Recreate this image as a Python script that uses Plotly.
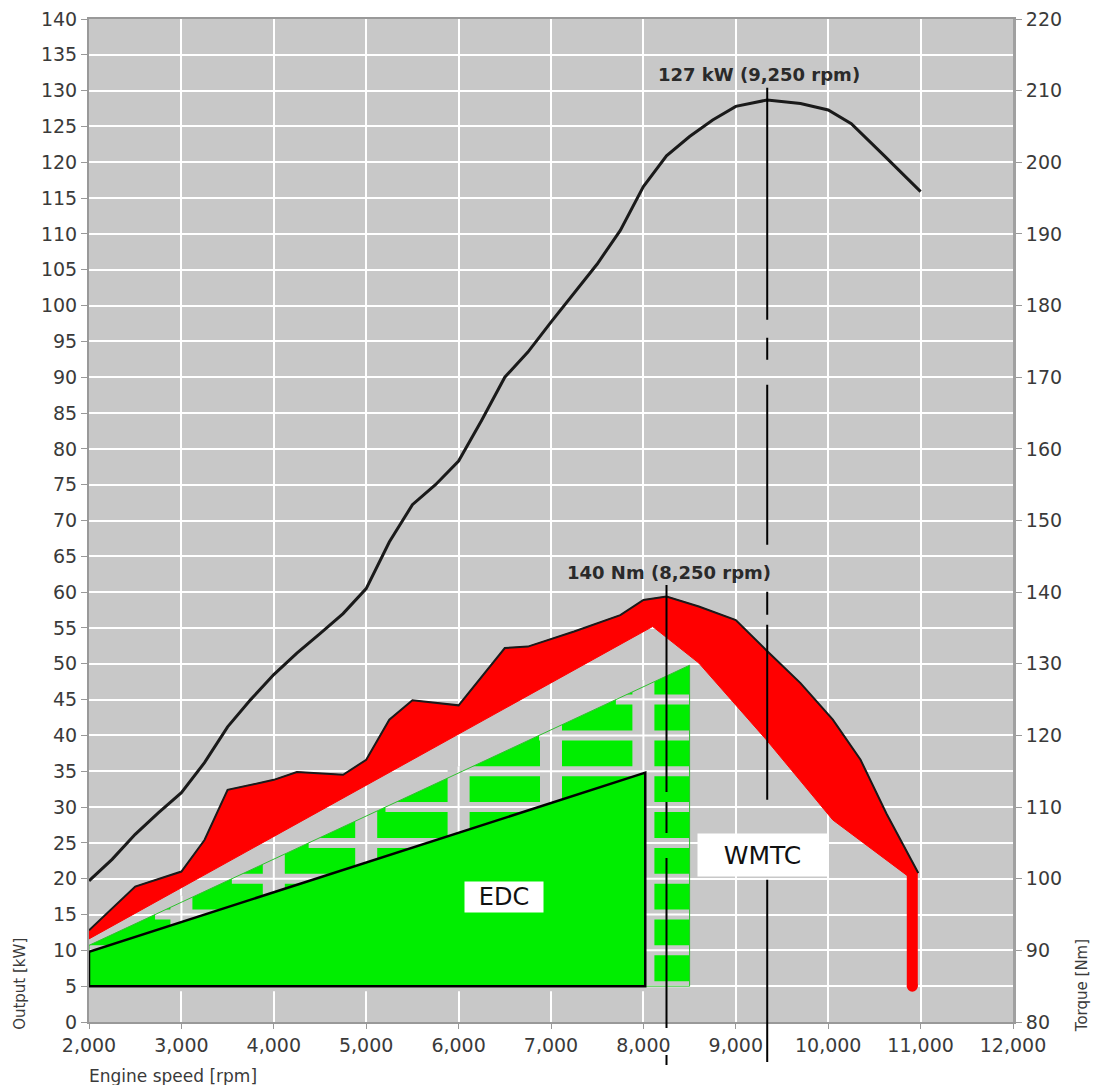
import numpy as np
import plotly.graph_objects as go

# ---------------- data ----------------
# Power curve (kW, left axis)
power_rpm = [2000, 2250, 2500, 2750, 3000, 3250, 3500, 3750, 4000, 4250, 4500, 4750,
             5000, 5250, 5500, 5750, 6000, 6250, 6500, 6750, 7000, 7250, 7500, 7750,
             8000, 8250, 8500, 8750, 9000, 9340, 9700, 10000, 10250, 10600, 11000]
power_kw = [19.7, 22.7, 26.2, 29.2, 32.0, 36.2, 41.2, 45.0, 48.5, 51.5, 54.2, 57.0,
            60.5, 67.0, 72.2, 75.0, 78.3, 84.0, 90.0, 93.5, 97.7, 101.8, 105.8, 110.5,
            116.6, 120.9, 123.6, 125.9, 127.8, 128.7, 128.2, 127.3, 125.4, 121.0, 115.9]

# Torque band (Nm, right axis) – upper edge = full torque curve
torque_up_rpm = [2000, 2500, 3000, 3250, 3500, 4000, 4250, 4750, 5000, 5250, 5500, 6000,
                 6500, 6750, 7250, 7500, 7750, 8000, 8250, 8600, 9000, 9330, 9700,
                 10050, 10350, 10630, 10975]
torque_up_nm = [92.8, 98.9, 101.0, 105.4, 112.4, 113.8, 114.9, 114.5, 116.6, 122.2, 124.9, 124.2,
                132.2, 132.4, 134.5, 135.6, 136.8, 138.9, 139.4, 138.0, 136.1, 131.9, 127.3,
                122.2, 116.6, 109.1, 100.8]
# lower edge of the torque band
torque_lo_rpm = [2000, 8100, 8600, 9330, 10050, 10900]
torque_lo_nm = [91.6, 135.2, 130.1, 119.4, 108.2, 100.0]

# red limiter bar
limiter_rpm = [10910, 10910]
limiter_nm = [100.8, 85.0]

# EDC area (kW)
edc_rpm = [2000, 2000, 8020, 8020, 2000]
edc_kw = [5, 9.8, 34.8, 5, 5]

# WMTC area (kW)
wmtc_rpm = [2000, 2000, 8500, 8500, 2000]
wmtc_kw = [5, 10.7, 49.8, 5, 5]

# peak markers
peak_torque_rpm = 8250
peak_torque_line_top_kw = 61.0
peak_power_line_rpm = 9340
peak_power_line_top_kw = 130.4
peak_power_label = "127 kW (9,250 rpm)"
peak_torque_label = "140 Nm (8,250 rpm)"
peak_power_label_pos = (9250, 132.3)   # rpm, kW
peak_torque_label_pos = (8280, 142.8)  # rpm, Nm

x_ticks = list(range(2000, 12001, 1000))
kw_ticks = list(range(0, 141, 5))
nm_ticks = list(range(80, 221, 10))

# ---------------- styling ----------------
BG = "#c8c8c8"
GREEN = "#00ee00"
RED = "#ff0000"
FONT = "DejaVu Sans"
TICKC = "#3a3a3a"

fig = go.Figure()

# WMTC fill
fig.add_trace(go.Scatter(x=wmtc_rpm, y=wmtc_kw, fill="toself", fillcolor=GREEN,
                         mode="lines", line=dict(width=0, color=GREEN),
                         hoverinfo="skip", showlegend=False))

# gray gaps along the grid inside WMTC (pattern look of the original)
tx = [wmtc_rpm[1], wmtc_rpm[2]]
ty = [wmtc_kw[1], wmtc_kw[2]]
hx, hy = [], []
for k in kw_ticks:
    if k < wmtc_kw[0] or k >= ty[1]:
        continue
    xs = max(tx[0], float(np.interp(k, ty, tx)))
    hx += [xs, wmtc_rpm[2], None]
    hy += [k, k, None]
vx, vy = [], []
for r in x_ticks:
    if r <= wmtc_rpm[0] or r >= wmtc_rpm[2]:
        continue
    yt = float(np.interp(r + 150, tx, ty))
    vx += [r, r, None]
    vy += [wmtc_kw[0], yt, None]
fig.add_trace(go.Scatter(x=hx, y=hy, mode="lines", line=dict(color=BG, width=10),
                         hoverinfo="skip", showlegend=False))
fig.add_trace(go.Scatter(x=vx, y=vy, mode="lines", line=dict(color=BG, width=22),
                         hoverinfo="skip", showlegend=False))
fig.add_trace(go.Scatter(x=hx + vx, y=hy + vy, mode="lines", line=dict(color="white", width=2),
                         hoverinfo="skip", showlegend=False))
# WMTC thin outline
fig.add_trace(go.Scatter(x=wmtc_rpm, y=wmtc_kw, mode="lines",
                         line=dict(color="#2fc02f", width=1),
                         hoverinfo="skip", showlegend=False))

# EDC
fig.add_trace(go.Scatter(x=edc_rpm, y=edc_kw, fill="toself", fillcolor=GREEN,
                         mode="lines", line=dict(color="black", width=2.5),
                         hoverinfo="skip", showlegend=False))

# torque band
band_x = torque_up_rpm + torque_lo_rpm[::-1]
band_y = torque_up_nm + torque_lo_nm[::-1]
fig.add_trace(go.Scatter(x=band_x, y=band_y, yaxis="y2", fill="toself", fillcolor=RED,
                         mode="lines", line=dict(color=RED, width=1),
                         hoverinfo="skip", showlegend=False))
fig.add_trace(go.Scatter(x=torque_up_rpm, y=torque_up_nm, yaxis="y2", mode="lines",
                         line=dict(color="#1a1a1a", width=2),
                         hoverinfo="skip", showlegend=False))
# limiter bar
fig.add_trace(go.Scatter(x=limiter_rpm, y=limiter_nm, yaxis="y2", mode="lines",
                         line=dict(color=RED, width=11),
                         hoverinfo="skip", showlegend=False))
fig.add_trace(go.Scatter(x=limiter_rpm[1:], y=limiter_nm[1:], yaxis="y2", mode="markers",
                         marker=dict(color=RED, size=11),
                         hoverinfo="skip", showlegend=False))

# power curve
fig.add_trace(go.Scatter(x=power_rpm, y=power_kw, mode="lines",
                         line=dict(color="#1a1a1a", width=3),
                         hoverinfo="skip", showlegend=False))

# peak marker lines
fig.add_shape(type="line", xref="x", yref="paper",
              x0=peak_torque_rpm, x1=peak_torque_rpm,
              y0=peak_torque_line_top_kw / 140, y1=-0.043,
              line=dict(color="black", width=2,
                        dash="207px,10px,31px,25px,170px,27px,10px,200px"))
fig.add_shape(type="line", xref="x", yref="paper",
              x0=peak_power_line_rpm, x1=peak_power_line_rpm,
              y0=peak_power_line_top_kw / 140, y1=-0.04,
              line=dict(color="black", width=2,
                        dash="232px,18px,22px,25px,160px,47px,23px,10px,175px,80px,300px"))

# annotations
fig.add_annotation(x=peak_power_label_pos[0], y=peak_power_label_pos[1], xref="x", yref="y",
                   text="<b>" + peak_power_label + "</b>", showarrow=False,
                   font=dict(family=FONT, size=18, color="#2a2a2a"))
fig.add_annotation(x=peak_torque_label_pos[0], y=peak_torque_label_pos[1], xref="x", yref="y2",
                   text="<b>" + peak_torque_label + "</b>", showarrow=False,
                   font=dict(family=FONT, size=18, color="#2a2a2a"))
fig.add_annotation(x=6490, y=17.4, xref="x", yref="y", text="EDC", showarrow=False,
                   bgcolor="white", width=78, height=30, borderpad=0,
                   font=dict(family=FONT, size=24, color="#111"))
fig.add_annotation(x=9290, y=23.3, xref="x", yref="y", text="WMTC", showarrow=False,
                   bgcolor="white", width=129, height=42, borderpad=0,
                   font=dict(family=FONT, size=25, color="#111"))

# axis titles
fig.add_annotation(x=-0.002, y=-0.054, xref="paper", yref="paper",
                   xanchor="left", yanchor="middle",
                   text="Engine speed [rpm]", showarrow=False,
                   font=dict(family=FONT, size=17, color=TICKC))
fig.add_annotation(x=-0.0747, y=0.038, xref="paper", yref="paper", textangle=-90,
                   xanchor="center", yanchor="middle",
                   text="Output [kW]", showarrow=False,
                   font=dict(family=FONT, size=15, color=TICKC))
fig.add_annotation(x=1.075, y=0.036, xref="paper", yref="paper", textangle=-90,
                   xanchor="center", yanchor="middle",
                   text="Torque [Nm]", showarrow=False,
                   font=dict(family=FONT, size=15, color=TICKC))

tickfont = dict(family=FONT, size=19, color=TICKC)
fig.update_layout(
    width=1091, height=1077,
    margin=dict(l=81, r=86, t=11, b=63, autoexpand=False),
    paper_bgcolor="white", plot_bgcolor=BG,
    showlegend=False,
    xaxis=dict(range=[2000, 12000], tickvals=x_ticks, tickformat=",d",
               showgrid=True, gridcolor="white", gridwidth=2,
               showline=True, linecolor="#999999", linewidth=2, mirror=True,
               ticks="outside", ticklen=5, tickcolor="#999999",
               tickfont=tickfont, zeroline=False, automargin=False,
               ticklabeloverflow="allow"),
    yaxis=dict(range=[0, 140], tickvals=kw_ticks,
               showgrid=True, gridcolor="white", gridwidth=2,
               showline=True, linecolor="#999999", linewidth=2,
               ticks="outside", ticklen=6, tickcolor="#999999",
               tickfont=tickfont, zeroline=False, automargin=False,
               ticklabeloverflow="allow"),
    yaxis2=dict(range=[80, 220], tickvals=nm_ticks, overlaying="y", side="right",
                showgrid=False, showline=True, linecolor="#a0a0a0", linewidth=3,
                ticks="outside", ticklen=6, tickcolor="#999999",
                tickfont=tickfont, zeroline=False, automargin=False,
                ticklabeloverflow="allow"),
)

fig.write_html("out.html")
